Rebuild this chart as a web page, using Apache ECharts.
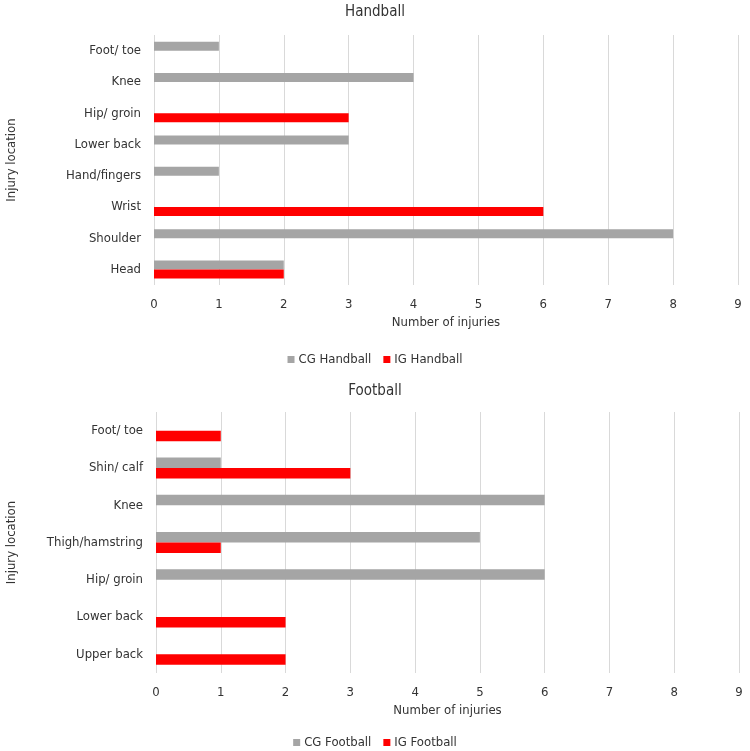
<!DOCTYPE html>
<html>
<head>
<meta charset="utf-8">
<script src="https://cdn.jsdelivr.net/npm/echarts@6/dist/echarts.min.js"></script>
<style>html,body{margin:0;padding:0;background:#fff}#c{width:750px;height:751px}</style>
</head>
<body>
<div id="c"></div>
<script>
// Handball (bottom to top)
const hbCategories = ['Head', 'Shoulder', 'Wrist', 'Hand/fingers', 'Lower back', 'Hip/ groin', 'Knee', 'Foot/ toe'];
const hbCG = [2, 8, 0, 1, 3, 0, 4, 1];
const hbIG = [2, 0, 6, 0, 0, 3, 0, 0];
// Football (bottom to top)
const fbCategories = ['Upper back', 'Lower back', 'Hip/ groin', 'Thigh/hamstring', 'Knee', 'Shin/ calf', 'Foot/ toe'];
const fbCG = [0, 0, 6, 5, 6, 1, 0];
const fbIG = [2, 2, 0, 1, 0, 3, 1];
const xTicks = [0, 1, 2, 3, 4, 5, 6, 7, 8, 9];

const FONT = '"DejaVu Sans Condensed", "DejaVu Sans", sans-serif';
const TXT = '#333333';
const GRAY = '#a5a5a5';
const RED = '#ff0000';

function xAxis(gridIndex) {
  return {
    type: 'value', gridIndex, min: xTicks[0], max: xTicks[xTicks.length - 1], interval: 1,
    name: 'Number of injuries', nameLocation: 'middle', nameGap: 31,
    nameTextStyle: { color: TXT, fontFamily: FONT, fontSize: 13 },
    axisLine: { show: false }, axisTick: { show: false },
    axisLabel: { color: TXT, fontFamily: FONT, fontSize: 13, margin: 13 },
    splitLine: { show: true, lineStyle: { color: '#d9d9d9', width: 1 } }
  };
}
function yAxis(gridIndex, cats, gap) {
  return {
    type: 'category', gridIndex, data: cats,
    name: 'Injury location', nameLocation: 'middle', nameGap: gap, nameRotate: 90,
    nameTextStyle: { color: TXT, fontFamily: FONT, fontSize: 13 },
    axisLine: { show: false }, axisTick: { show: false },
    axisLabel: { color: TXT, fontFamily: FONT, fontSize: 13, margin: 13 },
    splitLine: { show: false }
  };
}

const chart = echarts.init(document.getElementById('c'), null, { renderer: 'canvas' });
chart.setOption({
  animation: false,
  backgroundColor: '#fff',
  title: [
    { text: 'Handball', left: 'center', top: 0, textStyle: { color: TXT, fontFamily: FONT, fontSize: 15, fontWeight: 'normal' } },
    { text: 'Football', left: 'center', top: 379, textStyle: { color: TXT, fontFamily: FONT, fontSize: 15, fontWeight: 'normal' } }
  ],
  legend: [
    { data: ['CG Handball', 'IG Handball'], left: 'center', top: 348, icon: 'rect', itemWidth: 7, itemHeight: 7, itemGap: 12,
      textStyle: { color: TXT, fontFamily: FONT, fontSize: 13, padding: [0, 0, 0, -1] } },
    { data: ['CG Football', 'IG Football'], left: 'center', top: 731, icon: 'rect', itemWidth: 7, itemHeight: 7, itemGap: 12,
      textStyle: { color: TXT, fontFamily: FONT, fontSize: 13, padding: [0, 0, 0, -1] } }
  ],
  grid: [
    { left: 154, right: 12, top: 35, height: 250, outerBoundsMode: 'none', containLabel: false },
    { left: 156, right: 11, top: 412, height: 261, outerBoundsMode: 'none', containLabel: false }
  ],
  xAxis: [xAxis(0), xAxis(1)],
  yAxis: [yAxis(0, hbCategories, 136), yAxis(1, fbCategories, 138)],
  series: [
    { name: 'CG Handball', type: 'bar', xAxisIndex: 0, yAxisIndex: 0, data: hbCG, barWidth: 9, barGap: '0%', itemStyle: { color: GRAY } },
    { name: 'IG Handball', type: 'bar', xAxisIndex: 0, yAxisIndex: 0, data: hbIG, barWidth: 9, barGap: '0%', itemStyle: { color: RED } },
    { name: 'CG Football', type: 'bar', xAxisIndex: 1, yAxisIndex: 1, data: fbCG, barWidth: 10.5, barGap: '0%', itemStyle: { color: GRAY } },
    { name: 'IG Football', type: 'bar', xAxisIndex: 1, yAxisIndex: 1, data: fbIG, barWidth: 10.5, barGap: '0%', itemStyle: { color: RED } }
  ]
});
</script>
</body>
</html>
